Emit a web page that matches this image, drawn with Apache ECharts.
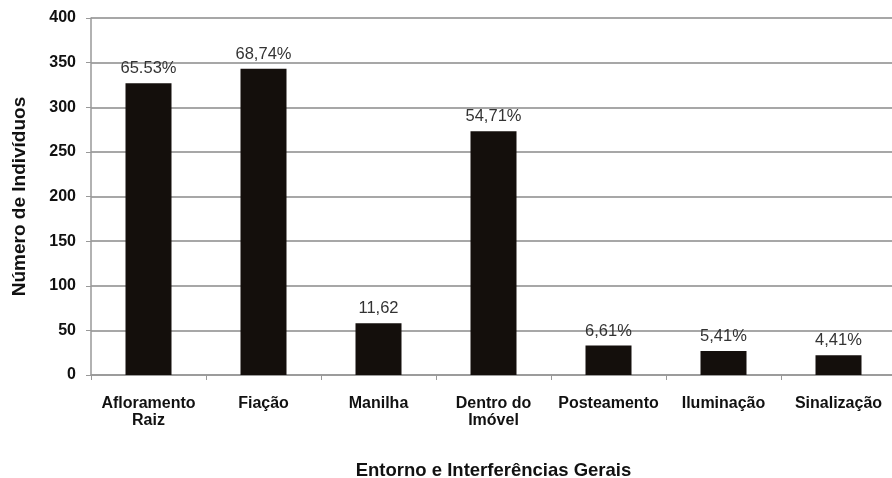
<!DOCTYPE html>
<html>
<head>
<meta charset="utf-8">
<script src="https://cdn.jsdelivr.net/npm/echarts@6/dist/echarts.min.js"></script>
<style>
html, body { margin: 0; padding: 0; background: #fff; }
#chart { width: 892px; height: 478px; }
</style>
</head>
<body>
<div id="chart"></div>
<script>
// categorias do eixo x
var categorias = ['Afloramento\nRaiz', 'Fiação', 'Manilha', 'Dentro do\nImóvel', 'Posteamento', 'Iluminação', 'Sinalização'];
// número de indivíduos por categoria
var valores = [327, 343, 58, 273, 33, 27, 22];
// rótulos em cima das barras
var rotulos = ['65.53%', '68,74%', '11,62', '54,71%', '6,61%', '5,41%', '4,41%'];

var myChart = echarts.init(document.getElementById('chart'));

var option = {
	animation: false,
	textStyle: { fontFamily: 'Liberation Sans, Arial, sans-serif' },
	grid: {
		left: 91,
		top: 18,
		width: 805,
		height: 357,
		outerBoundsMode: 'none'
	},
	xAxis: {
		type: 'category',
		data: categorias,
		name: 'Entorno e Interferências Gerais',
		nameLocation: 'middle',
		nameGap: 86,
		nameTextStyle: { color: '#111', fontWeight: 'bold', fontSize: 18.5 },
		axisLine: { lineStyle: { color: '#999', width: 1.5 } },
		axisTick: { show: true, length: 5, lineStyle: { color: '#999' } },
		axisLabel: {
			color: '#111',
			fontWeight: 'bold',
			fontSize: 16,
			lineHeight: 17,
			margin: 20,
			interval: 0
		}
	},
	yAxis: {
		type: 'value',
		min: 0,
		max: 400,
		interval: 50,
		name: 'Número de Indivíduos',
		nameLocation: 'middle',
		nameGap: 62,
		nameTextStyle: { color: '#111', fontWeight: 'bold', fontSize: 19 },
		axisLine: { show: true, lineStyle: { color: '#999', width: 1.5 } },
		axisTick: { show: true, length: 5, lineStyle: { color: '#999' } },
		axisLabel: { color: '#111', fontWeight: 'bold', fontSize: 16, margin: 15 },
		splitLine: { lineStyle: { color: '#8a8a8a', width: 1.5 } }
	},
	series: [{
		type: 'bar',
		data: valores,
		barWidth: 46,
		itemStyle: { color: '#140f0c' },
		label: {
			show: true,
			position: 'top',
			distance: 6,
			color: '#333',
			fontSize: 16.5,
			formatter: function(p) {
				return rotulos[p.dataIndex];
			}
		}
	}]
};
myChart.setOption(option);
</script>
</body>
</html>
